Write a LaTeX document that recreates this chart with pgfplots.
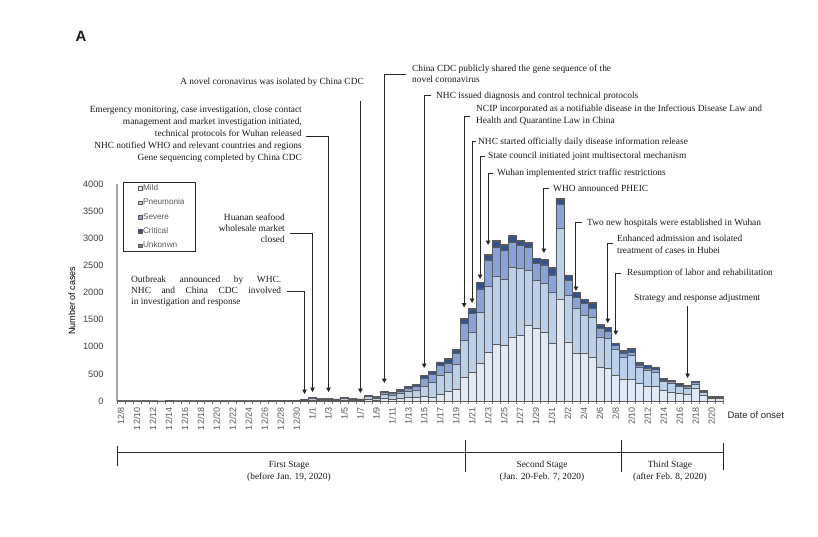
\documentclass[border=0pt]{standalone}
\usepackage{pgfplots}
\pgfplotsset{compat=1.18}
\usepackage{pgfplotstable}
\usepackage{fontspec}
\setmainfont{Liberation Serif}
\setsansfont{Liberation Sans}
\usetikzlibrary{arrows.meta}

\definecolor{cMild}{HTML}{E0EAF6}
\definecolor{cPneu}{HTML}{B9D1EB}
\definecolor{cSev}{HTML}{86A3DA}
\definecolor{cCrit}{HTML}{2F5293}
\definecolor{cUnk}{HTML}{808080}
\definecolor{cEdge}{HTML}{5A5A5A}

% day index 0 = 12/8 ... 75 = 2/21 ; m=mild p=pneumonia s=severe c=critical u=unknown
\pgfplotstableread{
x m p s c u
0 3 3 1 1 0
1 2 2 1 0 0
2 2 1 1 0 0
3 2 2 1 0 0
4 2 1 1 0 0
5 1 1 1 0 0
6 4 5 2 1 0
7 2 1 1 0 0
8 2 2 1 1 0
9 3 2 1 1 0
10 3 3 1 1 0
11 2 2 1 0 0
12 3 2 1 1 0
13 3 3 1 1 0
14 3 3 2 1 0
15 2 2 1 1 0
16 3 3 1 1 0
17 3 3 2 1 0
18 2 2 1 0 0
19 4 3 2 1 0
20 5 5 2 2 0
21 5 5 3 2 0
22 6 6 3 2 1
23 10 14 6 4 1
24 18 24 10 6 2
25 14 18 8 4 1
26 14 18 8 4 1
27 12 16 7 4 1
28 18 26 10 6 2
29 14 18 8 4 1
30 12 16 7 4 1
31 30 48 20 10 2
32 22 35 14 7 2
33 45 80 35 18 5
34 40 70 30 15 4
35 50 95 42 22 5
36 60 125 55 28 7
37 65 140 62 32 7
38 79 196 147 50 5
39 68 268 154 55 5
40 128 349 183 57 5
41 171 355 165 87 5
42 214 465 196 68 5
43 446 673 318 72 8
44 520 752 337 83 8
45 691 948 429 112 10
46 893 1223 484 87 10
47 1046 1248 537 113 10
48 1028 1223 532 88 10
49 1180 1284 459 113 10
50 1220 1220 422 88 10
51 1394 1010 427 82 10
52 1333 887 318 88 10
53 1272 905 331 88 10
54 1058 948 318 131 10
55 1884 1303 440 100 10
56 1089 856 275 94 10
57 887 813 214 82 10
58 887 691 214 82 10
59 814 733 166 88 10
60 618 562 153 66 8
61 599 551 140 66 8
62 465 483 80 36 6
63 397 417 73 37 6
64 397 438 70 55 6
65 324 291 52 34 5
66 275 282 42 51 5
67 263 275 43 44 5
68 190 165 30 27 4
69 165 159 31 26 4
70 141 122 31 26 4
71 122 110 31 27 4
72 232 68 36 27 4
73 98 55 18 16 3
74 43 17 12 6 2
75 43 17 12 6 2
}\casedata

\begin{document}
\begin{tikzpicture}
\useasboundingbox (0pt,0pt) rectangle (818pt,-536pt);
\begin{axis}[
  at={(117pt,-401pt)}, anchor=south west,
  scale only axis, width=606.5pt, height=217pt,
  xmin=-0.5, xmax=75.5, ymin=0, ymax=4000,
  enlargelimits=false,
  ybar stacked, bar width=1,
  axis x line*=bottom, axis y line*=left,
  axis line style={draw=black!35, line width=1.2pt},
  xtick={0,2,...,74},
  xticklabels={12/8,12/10,12/12,12/14,12/16,12/18,12/20,12/22,12/24,12/26,12/28,12/30,1/1,1/3,1/5,1/7,1/9,1/11,1/13,1/15,1/17,1/19,1/21,1/23,1/25,1/27,1/29,1/31,2/2,2/4,2/6,2/8,2/10,2/12,2/14,2/16,2/18,2/20},
  minor xtick={-0.5,0.5,...,75.5},
  major x tick style={draw=none},
  minor x tick style={draw=black!55, line width=0.6pt},
  minor tick length=3pt,
  tick align=outside,
  ytick={0,500,...,4000},
  yticklabels={0,500,1000,1500,2000,2500,3000,3500,4000},
  y tick style={draw=none},
  xticklabel style={rotate=90, anchor=east, font=\sffamily\fontsize{9}{10}\selectfont, text=black!65, inner sep=2pt},
  yticklabel style={font=\sffamily\fontsize{9.2}{10}\selectfont, text=black!75, inner sep=0pt, xshift=-9pt},
  ylabel={Number of cases},
  ylabel style={font=\sffamily\fontsize{9}{10}\selectfont, at={(axis description cs:-0.0742,0.461)}, anchor=center},
  legend cell align=left,
  legend image code/.code={\path (0pt,0pt); \draw[#1, line width=0.5pt] (5pt,-1.8pt) rectangle (8.6pt,1.8pt);},
  legend style={at={(0.0099,1.009)}, anchor=north west, draw=black!85, line width=0.8pt, fill=white,
    font=\sffamily\fontsize{8.2}{9}\selectfont, text=black!65, inner xsep=10pt, inner ysep=1pt,
    row sep=5pt, nodes={inner ysep=1pt, inner xsep=0.5pt}},
]
\addplot[fill=cMild, draw=cEdge, line width=0.6pt] table[x=x,y=m]{\casedata};
\addlegendentry{Mild}
\addplot[fill=cPneu, draw=cEdge, line width=0.6pt] table[x=x,y=p]{\casedata};
\addlegendentry{Pneumonia}
\addplot[fill=cSev, draw=cEdge, line width=0.6pt] table[x=x,y=s]{\casedata};
\addlegendentry{Severe}
\addplot[fill=cCrit, draw=cEdge, line width=0.6pt] table[x=x,y=c]{\casedata};
\addlegendentry{Critical}
\addplot[fill=cUnk, draw=cEdge, line width=0.6pt] table[x=x,y=u]{\casedata};
\addlegendentry{Unkonwn}
\end{axis}

\begin{scope}[x=1pt, y=-1pt, font=\fontsize{9.4}{11}\selectfont, text=black!90]
\tikzset{ann/.style={draw=black!85, line width=0.85pt, -{Triangle[length=4.5pt,width=4.5pt]}},
         lt/.style={anchor=base west, inner sep=0pt},
         rt/.style={anchor=base east, inner sep=0pt}}
\node[anchor=base west, font=\sffamily\bfseries\fontsize{15}{16}\selectfont] at (72,41) {A};

% Outbreak
\node[lt] at (131,282) {\makebox[150pt][s]{Outbreak announced by WHC.}};
\node[lt] at (131,293) {\makebox[150pt][s]{NHC and China CDC involved}};
\node[lt] at (131,304) {in investigation and response};
\draw[ann] (287,291) -- (304.5,291) -- (304.5,394);

% Huanan
\node[rt] at (285,220) {Huanan seafood};
\node[rt] at (285,231) {wholesale market};
\node[rt] at (285,242) {closed};
\draw[ann] (290,233) -- (312.5,233) -- (312.5,392);

% Emergency
\node[rt] at (302,112) {Emergency monitoring, case investigation, close contact};
\node[rt] at (302,124) {management and market investigation initiated,};
\node[rt] at (302,136.5) {technical protocols for Wuhan released};
\node[rt] at (302,148.5) {NHC notified WHO and relevant countries and regions};
\node[rt] at (302,160.5) {Gene sequencing completed by China CDC};
\draw[ann] (306,136) -- (328.5,136) -- (328.5,392);

% isolated
\node[rt] at (364,84) {A novel coronavirus was isolated by China CDC};
\draw[ann] (360.4,101) -- (360.4,393);

% gene sequence shared
\node[lt] at (412,71) {China CDC publicly shared the gene sequence of the};
\node[lt] at (412,82) {novel coronavirus};
\draw[ann] (406,74) -- (384.3,74) -- (384.3,383);

% NHC issued
\node[lt] at (436,98) {NHC issued diagnosis and control technical protocols};
\draw[ann] (431,95) -- (424.2,95) -- (424.2,368);

% NCIP
\node[lt] at (476,111.5) {NCIP incorporated as a notifiable disease in the Infectious Disease Law and};
\node[lt] at (476,123.5) {Health and Quarantine Law in China};
\draw[ann] (470,116) -- (464.1,116) -- (464.1,307.5);

% NHC started
\node[lt] at (478,144) {NHC started officially daily disease information release};
\draw[ann] (476,141) -- (472.1,141) -- (472.1,303);

% State council
\node[lt] at (488,158) {State council initiated joint multisectoral mechanism};
\draw[ann] (485,156) -- (480.1,156) -- (480.1,279);

% Wuhan
\node[lt] at (497,175) {Wuhan implemented strict traffic restrictions};
\draw[ann] (493,173) -- (488.1,173) -- (488.1,245);

% WHO
\node[lt] at (553,191) {WHO announced PHEIC};
\draw[ann] (549,188) -- (543.9,188) -- (543.9,253);

% Two new hospitals
\node[lt] at (587,225) {Two new hospitals were established in Wuhan};
\draw[ann] (582,222) -- (575.9,222) -- (575.9,291);

% Enhanced
\node[lt] at (617,241) {Enhanced admission and isolated};
\node[lt] at (617,253) {treatment of cases in Hubei};
\draw[ann] (613,243) -- (607.8,243) -- (607.8,323);

% Resumption
\node[lt] at (627,275) {Resumption of labor and rehabilitation};
\draw[ann] (621,273) -- (615.8,273) -- (615.8,335);

% Strategy
\node[lt] at (634,300) {Strategy and response adjustment};
\draw[ann] (687.6,306) -- (687.6,378);

% date of onset
\node[anchor=west, font=\sffamily\fontsize{9.5}{10}\selectfont, text=black!85] at (724,415) {Date of onset};

% stages
\draw[black!85, line width=0.9pt] (117,452) -- (723.5,452);
\draw[black!85, line width=0.9pt] (117,446) -- (117,466);
\draw[black!85, line width=0.9pt] (465,440) -- (465,472);
\draw[black!85, line width=0.9pt] (621,440) -- (621,472);
\draw[black!85, line width=0.9pt] (723.5,443) -- (723.5,470);
\node[anchor=base] at (289,467) {First Stage};
\node[anchor=base] at (289,479) {(before Jan. 19, 2020)};
\node[anchor=base] at (542,467) {Second Stage};
\node[anchor=base] at (542,479) {(Jan. 20-Feb. 7, 2020)};
\node[anchor=base] at (670,467) {Third Stage};
\node[anchor=base] at (670,479) {(after Feb. 8, 2020)};
\end{scope}
\end{tikzpicture}
\end{document}
